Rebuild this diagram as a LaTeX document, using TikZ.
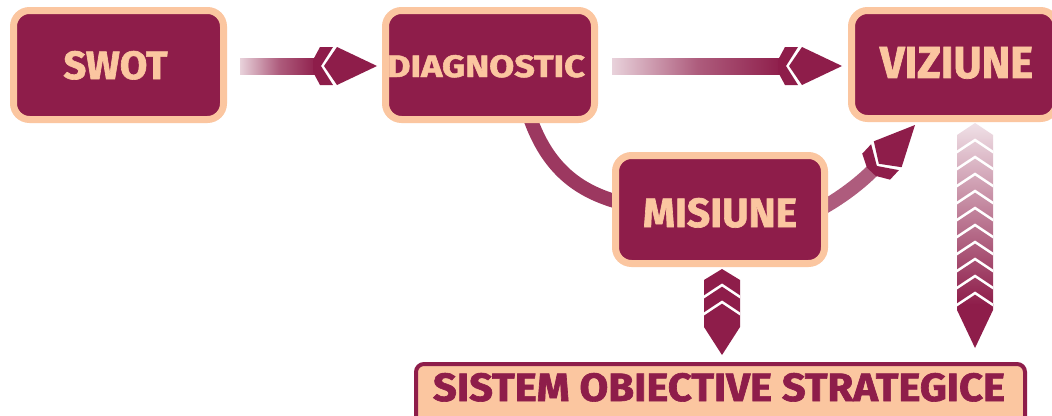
\documentclass[tikz,border=0pt]{standalone}
\usepackage{fontspec}
\setmainfont{Fira Sans}[BoldFeatures={FakeBold=1.6}]
\usepackage{graphicx}
\definecolor{mrn}{RGB}{142,29,74}
\definecolor{peach}{RGB}{251,198,160}
% width, height, dx, dy, text
\newcommand{\fitword}[5]{\hspace*{#3pt}\raisebox{#4pt}[#2pt][0pt]{\resizebox{#1pt}{#2pt}{\bfseries #5}}}
\tikzset{
  mbox/.style={draw=peach, line width=7pt, fill=mrn, rounded corners=16pt, text=peach, inner sep=0pt},
  chevhead/.pic={
    \fill[mrn] (0,0) -- (-40,19) -- (-53,0) -- (-40,-19) -- cycle;
    \fill[mrn] (-44,19) -- (-56,0) -- (-44,-19) -- (-57,-19) -- (-64,-6) -- (-64,6) -- (-57,19) -- cycle;
  },
  shaftshade/.style={left color=mrn!20, right color=mrn, middle color=mrn!72},
  chevline/.style={white, line width=2.5pt},
}
\begin{document}
\begin{tikzpicture}[x=1pt,y=-1pt]
\useasboundingbox (0,0) rectangle (1052,415);
\fill[white] (0,0) rectangle (1052,415);

% coordinates for connectors
\coordinate (a1s) at (240,58);
\coordinate (a1e) at (318,74);
\coordinate (a1t) at (377,66);
\coordinate (a2s) at (612,58);
\coordinate (a2e) at (783,74);
\coordinate (a2t) at (842,66);
\coordinate (a4t) at (915,125);

% arrow SWOT -> DIAGNOSTIC
\shade[shaftshade] (a1s) rectangle (a1e);
\pic at (a1t) {chevhead};

% arrow DIAGNOSTIC -> VIZIUNE
\shade[shaftshade] (a2s) rectangle (a2e);
\pic at (a2t) {chevhead};

% arc DIAGNOSTIC -> MISIUNE
\draw[mrn!88, line width=14pt] (528,112) .. controls (545,165) and (575,190) .. (618,202);

% arrow MISIUNE -> VIZIUNE
\draw[mrn!72, line width=14pt] (815,212) .. controls (840,199) and (862,182) .. (877,166);
\pic[rotate=47] at (a4t) {chevhead};

% down arrow from MISIUNE
\begin{scope}
  \clip (722,269) -- (740,280) -- (740,327) -- (722,355) -- (704,327) -- (704,280) -- cycle;
  \fill[mrn] (700,265) rectangle (745,360);
  \draw[chevline] (702,298.3) -- (722,285) -- (742,298.3);
  \draw[chevline] (702,315.3) -- (722,302) -- (742,315.3);
\end{scope}

% down arrow from VIZIUNE
\begin{scope}
  \clip (975,123) -- (993,135) -- (993,310) -- (975,348) -- (957,310) -- (957,135) -- cycle;
  \shade[top color=mrn!12, bottom color=mrn] (950,120) rectangle (1000,305);
  \fill[mrn] (950,304) rectangle (1000,352);
  \foreach \k in {1,...,10}
    \draw[chevline] (955,{123+17*\k+13.3}) -- (975,{123+17*\k}) -- (995,{123+17*\k+13.3});
\end{scope}

% boxes
\node[mbox, minimum width=210pt, minimum height=109pt] (swot) at (118.5,65) {\fitword{104}{28}{-6}{0}{SWOT}};
\node[mbox, minimum width=209pt, minimum height=109pt] (diag) at (490,65) {\fitword{198}{22}{-8}{-1}{DIAGNOSTIC}};
\node[mbox, minimum width=205pt, minimum height=108pt] (viz) at (954,64.5) {\fitword{153}{31}{5}{2}{VIZIUNE}};
\node[mbox, minimum width=209pt, minimum height=108pt] (mis) at (720,209.5) {\fitword{154}{29}{0}{-3}{MISIUNE}};
\node[draw=mrn, line width=4pt, fill=peach, rounded corners=8pt, minimum width=609pt, minimum height=90pt,
      text=mrn, text height=28pt, text depth=44pt, inner sep=0pt] (sos) at (720.5,409)
      {\fitword{572}{28}{-3}{0}{SISTEM OBIECTIVE STRATEGICE}};
\end{tikzpicture}
\end{document}
